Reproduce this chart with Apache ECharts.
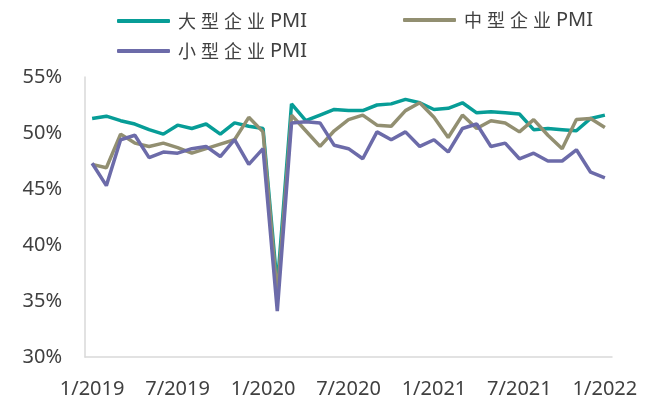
<!DOCTYPE html>
<html>
<head>
<meta charset="utf-8">
<script src="https://cdn.jsdelivr.net/npm/echarts@6/dist/echarts.min.js"></script>
<style>
  html, body { margin: 0; padding: 0; background: #fff; }
  #chart { width: 651px; height: 401px; }
</style>
</head>
<body>
<div id="chart"></div>
<script>
// 月份 (1/2019 - 1/2022)
const months = [
  "1/2019", "2/2019", "3/2019", "4/2019", "5/2019", "6/2019", "7/2019", "8/2019", "9/2019", "10/2019", "11/2019", "12/2019",
  "1/2020", "2/2020", "3/2020", "4/2020", "5/2020", "6/2020", "7/2020", "8/2020", "9/2020", "10/2020", "11/2020", "12/2020",
  "1/2021", "2/2021", "3/2021", "4/2021", "5/2021", "6/2021", "7/2021", "8/2021", "9/2021", "10/2021", "11/2021", "12/2021",
  "1/2022"
];

const seriesNames = ["大型企业PMI", "中型企业PMI", "小型企业PMI"];

// PMI (%)
const largePMI = [
  51.3, 51.5, 51.1, 50.8, 50.3, 49.9, 50.7, 50.4, 50.8, 49.9, 50.9, 50.6,
  50.4, 36.3, 52.6, 51.1, 51.6, 52.1, 52.0, 52.0, 52.5, 52.6, 53.0, 52.7,
  52.1, 52.2, 52.7, 51.8, 51.9, 51.8, 51.7, 50.3, 50.4, 50.3, 50.2, 51.3,
  51.6
];
const mediumPMI = [
  47.2, 46.9, 49.9, 49.1, 48.8, 49.1, 48.7, 48.2, 48.6, 49.0, 49.4, 51.4,
  50.1, 35.5, 51.6, 50.2, 48.8, 50.2, 51.2, 51.6, 50.7, 50.6, 52.0, 52.7,
  51.4, 49.6, 51.6, 50.4, 51.1, 50.9, 50.1, 51.2, 49.8, 48.6, 51.2, 51.3,
  50.5
];
const smallPMI = [
  47.3, 45.3, 49.4, 49.8, 47.8, 48.3, 48.2, 48.6, 48.8, 47.9, 49.4, 47.2,
  48.6, 34.1, 50.9, 51.0, 50.9, 48.9, 48.6, 47.7, 50.1, 49.4, 50.1, 48.8,
  49.4, 48.3, 50.4, 50.8, 48.8, 49.1, 47.7, 48.2, 47.5, 47.5, 48.5, 46.5,
  46.0
];

const colors = ["#079D97", "#928F71", "#6C6BA9"];
const textColor = "#404040";
const cjkFont = "'Noto Sans CJK SC', sans-serif";
const latinFont = "'Noto Sans', 'Liberation Sans', sans-serif";

const chart = echarts.init(document.getElementById("chart"));

// 图例文字：汉字加宽间距
const legendFormatter = name =>
  name.replace(/[\u4e00-\u9fff]/g, c => `{c|${c}}`).replace("PMI", "{p|PMI}");

const legendBase = {
  icon: "roundRect",
  itemWidth: 53,
  itemHeight: 4,
  itemGap: 0,
  formatter: legendFormatter,
  textStyle: {
    color: textColor,
    padding: [0, 0, 0, 3],
    rich: {
      c: { fontSize: 18, width: 23, lineHeight: 24, fontFamily: cjkFont, color: textColor },
      p: { fontSize: 20, lineHeight: 24, fontFamily: latinFont, color: textColor }
    }
  }
};

chart.setOption({
  animation: false,
  color: colors,
  legend: [
    Object.assign({}, legendBase, { data: [seriesNames[0]], left: 112, top: 6 }),
    Object.assign({}, legendBase, { data: [seriesNames[1]], left: 398, top: 5 }),
    Object.assign({}, legendBase, { data: [seriesNames[2]], left: 112, top: 36 })
  ],
  grid: { left: 85, right: 39, top: 77, bottom: 44, containLabel: false },
  xAxis: {
    type: "category",
    data: months,
    boundaryGap: true,
    axisLine: { lineStyle: { color: "#d9d9d9", width: 1.5 } },
    axisTick: { show: false },
    axisLabel: {
      interval: 5,
      color: textColor,
      fontSize: 20,
      fontFamily: latinFont,
      margin: 22
    }
  },
  yAxis: {
    type: "value",
    min: 30,
    max: 55,
    interval: 5,
    axisLine: { show: true, lineStyle: { color: "#d9d9d9", width: 1.5 } },
    axisTick: { show: false },
    splitLine: { show: false },
    axisLabel: {
      formatter: "{value}%",
      color: textColor,
      fontSize: 20,
      fontFamily: latinFont,
      margin: 23
    }
  },
  series: [
    { name: seriesNames[0], type: "line", data: largePMI },
    { name: seriesNames[1], type: "line", data: mediumPMI },
    { name: seriesNames[2], type: "line", data: smallPMI }
  ].map(s => Object.assign(s, {
    showSymbol: false,
    symbol: "none",
    lineStyle: { width: 3.5 }
  }))
});
</script>
</body>
</html>
